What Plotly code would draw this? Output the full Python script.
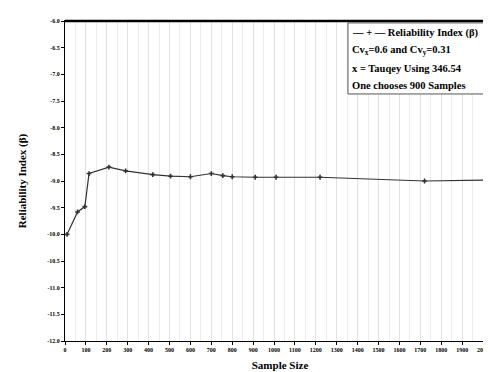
import plotly.graph_objects as go

sample_size = [10, 60, 95, 115, 210, 290, 420, 505, 600, 700, 755, 800, 910, 1010, 1220, 1720, 2030]
beta = [-10.0, -9.58, -9.48, -8.86, -8.74, -8.81, -8.88, -8.91, -8.92, -8.86, -8.90, -8.92, -8.93, -8.93, -8.93, -9.0, -8.98]

y_ticks = [-6.0, -6.5, -7.0, -7.5, -8.0, -8.5, -9.0, -9.5, -10.0, -10.5, -11.0, -11.5, -12.0]
x_ticks = list(range(0, 2001, 100))

legend_lines = [
    "— + — Reliability Index (β)",
    "Cv<sub>x</sub>=0.6 and Cv<sub>y</sub>=0.31",
    "x = Tauqey Using 346.54",
    "One chooses 900 Samples",
]

FONT = "Liberation Serif"

fig = go.Figure()
fig.add_trace(go.Scatter(
    x=sample_size, y=beta, mode="lines+markers",
    line=dict(color="#333333", width=1.2),
    marker=dict(symbol="cross", size=4, color="#333333"),
    showlegend=False,
))

fig.update_layout(
    width=491, height=372,
    margin=dict(l=57, r=4, t=13, b=39),
    paper_bgcolor="white", plot_bgcolor="white",
    font=dict(family=FONT, color="black"),
    xaxis=dict(
        range=[0, 2057], tickvals=x_ticks, ticktext=[str(v) for v in x_ticks],
        tickfont=dict(family=FONT, size=6, color="black", weight="bold"),
        ticks="outside", ticklen=3, tickcolor="black",
        showline=True, linecolor="black", linewidth=1.2, mirror=True,
        showgrid=True, gridcolor="#e2e2e2", gridwidth=1,
        minor=dict(dtick=50, showgrid=True, gridcolor="#ececec", gridwidth=1),
        zeroline=False,
        title=dict(text="Sample Size", font=dict(family=FONT, size=11, color="black", weight="bold"), standoff=9),
    ),
    yaxis=dict(
        range=[-12.0, -6.0], tickvals=y_ticks, ticktext=[f"{v:.1f}" for v in y_ticks],
        tickfont=dict(family=FONT, size=6, color="black", weight="bold"),
        ticks="outside", ticklen=3, tickcolor="black",
        showline=True, linecolor="black", linewidth=1.2, mirror=True,
        showgrid=False, zeroline=False,
        title=dict(text="Reliability Index (β)", font=dict(family=FONT, size=11, color="black", weight="bold"), standoff=18),
    ),
)

# thick top border
fig.add_shape(type="line", xref="paper", yref="paper", x0=0, x1=1, y0=1, y1=1,
              line=dict(color="black", width=2.5))

# legend box
fig.add_shape(type="rect", xref="paper", yref="paper", x0=0.658, x1=1.05, y0=0.772, y1=0.994,
              line=dict(color="#555555", width=1), fillcolor="white")
for i, t in enumerate(legend_lines):
    fig.add_annotation(xref="paper", yref="paper", x=0.662, y=0.9625 - i * 0.0547,
                       text=t, showarrow=False, xanchor="left", yanchor="middle",
                       font=dict(family=FONT, size=10.5, color="black", weight="bold"))

fig.write_html("out.html")
